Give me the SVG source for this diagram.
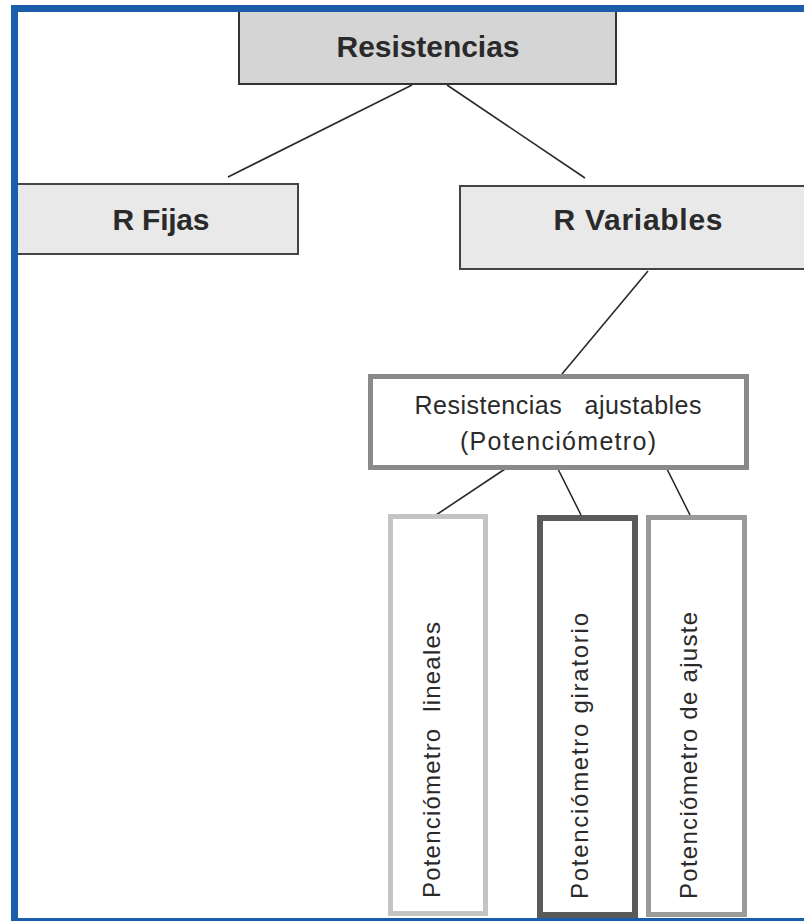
<svg xmlns="http://www.w3.org/2000/svg" width="804" height="921" viewBox="0 0 804 921">
<style>
.bold{font-family:"Liberation Sans",Arial,sans-serif;font-weight:bold;font-size:30px;fill:#2a2a2a;text-anchor:middle}
.reg{font-family:"Liberation Sans",Arial,sans-serif;font-size:25px;fill:#2a2a2a;text-anchor:middle}
.vert{font-family:"Liberation Sans",Arial,sans-serif;font-size:24px;fill:#2a2a2a}
.conn{stroke:#2a2a2a;stroke-width:1.6;fill:none}
</style>
<rect width="804" height="921" fill="#ffffff"/>
<g id="connectors">
<line class="conn" x1="412" y1="85" x2="228" y2="177"/>
<line class="conn" x1="447" y1="85" x2="585" y2="178"/>
<line class="conn" x1="648" y1="271" x2="562" y2="374"/>
<line class="conn" x1="505" y1="469" x2="436" y2="515"/>
<line class="conn" x1="558" y1="469" x2="581" y2="515"/>
<line class="conn" x1="667" y1="469" x2="690" y2="515"/>
</g>
<g id="resistencias">
<rect x="239" y="6" width="377" height="78" fill="#d5d5d5" stroke="#333" stroke-width="2"/>
<text class="bold" x="428" y="57" textLength="183">Resistencias</text>
</g>
<g id="r-fijas">
<rect x="17" y="184" width="281" height="70" fill="#e9e9e9" stroke="#444" stroke-width="2"/>
<text class="bold" x="161" y="230" textLength="97">R Fijas</text>
</g>
<g id="r-variables">
<rect x="460" y="186" width="360" height="83" fill="#e9e9e9" stroke="#444" stroke-width="2"/>
<text class="bold" x="638" y="230" textLength="169">R Variables</text>
</g>
<g id="ajustables">
<rect x="370.5" y="376.5" width="376" height="91" fill="#ffffff" stroke="#8a8a8a" stroke-width="5"/>
<text class="reg" x="558" y="414" textLength="287" xml:space="preserve">Resistencias   ajustables</text>
<text class="reg" x="558" y="450" textLength="196">(Potenciómetro)</text>
</g>
<g id="lineales">
<rect x="390.5" y="516.5" width="95" height="397" fill="#ffffff" stroke="#c4c4c4" stroke-width="5"/>
<text class="vert" transform="translate(440,898) rotate(-90)" textLength="276" xml:space="preserve">Potenciómetro  lineales</text>
</g>
<g id="giratorio">
<rect x="540" y="518" width="95" height="397" fill="#ffffff" stroke="#5a5a5a" stroke-width="6"/>
<text class="vert" transform="translate(588,899) rotate(-90)" textLength="286">Potenciómetro giratorio</text>
</g>
<g id="ajuste">
<rect x="648.5" y="517.5" width="96" height="397" fill="#ffffff" stroke="#9a9a9a" stroke-width="5"/>
<text class="vert" transform="translate(697,899) rotate(-90)" textLength="287">Potenciómetro de ajuste</text>
</g>
<g id="frame" fill="#1b5cab">
<rect x="11" y="5" width="793" height="7"/>
<rect x="11" y="5" width="7" height="916"/>
<rect x="11" y="918" width="793" height="3"/>
</g>
</svg>
